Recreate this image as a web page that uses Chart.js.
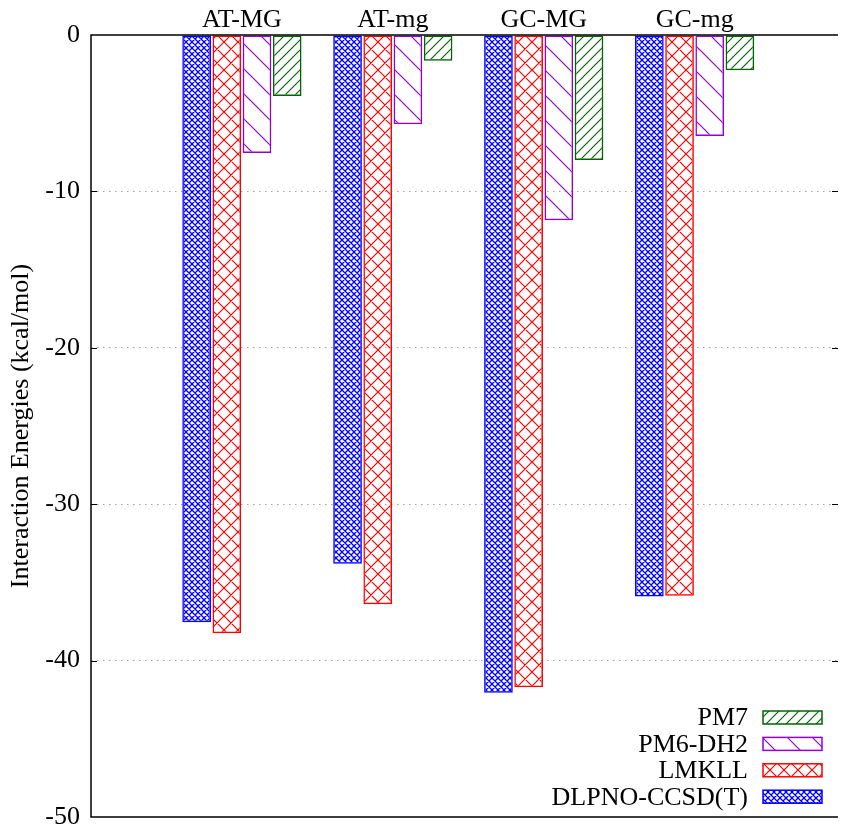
<!DOCTYPE html>
<html>
<head>
<meta charset="utf-8">
<script src="https://cdn.jsdelivr.net/npm/chart.js@4/dist/chart.umd.min.js"></script>
<style>
  html, body { margin: 0; padding: 0; background: #fff; }
  #wrap { width: 841px; height: 826px; }
</style>
</head>
<body>
<div id="wrap"><canvas id="energyChart" width="841" height="826"></canvas></div>
<script>
// categories shown along the top axis
const categories = ['AT-MG', 'AT-mg', 'GC-MG', 'GC-mg'];

// interaction energies (kcal/mol) per method
const dlpnoValues = [-37.55, -33.8, -42.05, -35.9];
const lmkllValues = [-38.25, -36.4, -41.7, -35.85];
const pm6dh2Values = [-7.55, -5.7, -11.85, -6.45];
const pm7Values = [-3.9, -1.65, -8.0, -2.25];

const yTicks = [0, -10, -20, -30, -40, -50];

const serif = '"Liberation Serif", "DejaVu Serif", serif';
const fontSize = 26;

// hatch patterns like gnuplot's fill patterns
function makePattern(size, color, kind, lw) {
  const c = document.createElement('canvas');
  c.width = size;
  c.height = size;
  const g = c.getContext('2d');
  g.strokeStyle = color;
  g.lineWidth = lw;
  g.beginPath();
  if (kind === 'fwd' || kind === 'cross') {
    g.moveTo(-1, size + 1); g.lineTo(size + 1, -1);
    g.moveTo(-1, 1); g.lineTo(1, -1);
    g.moveTo(size - 1, size + 1); g.lineTo(size + 1, size - 1);
  }
  if (kind === 'back' || kind === 'cross') {
    g.moveTo(-1, -1); g.lineTo(size + 1, size + 1);
    g.moveTo(size - 1, -1); g.lineTo(size + 1, 1);
    g.moveTo(-1, size - 1); g.lineTo(1, size + 1);
  }
  g.stroke();
  return g.createPattern(c, 'repeat');
}

const ctx = document.getElementById('energyChart').getContext('2d');

const blueFill = makePattern(6, '#0000ff', 'cross', 1.3);
const redFill = makePattern(14, '#ff0000', 'cross', 1.2);
const purpleFill = makePattern(25, '#9400d3', 'back', 1.2);
const greenFill = makePattern(10, '#006400', 'fwd', 1.1);

function toPoints(values) {
  return values.map((v, i) => ({ x: i + 1, y: v }));
}

const datasets = [
  { label: 'DLPNO-CCSD(T)', data: toPoints(dlpnoValues), backgroundColor: blueFill, borderColor: '#0000ff' },
  { label: 'LMKLL', data: toPoints(lmkllValues), backgroundColor: redFill, borderColor: '#ff0000' },
  { label: 'PM6-DH2', data: toPoints(pm6dh2Values), backgroundColor: purpleFill, borderColor: '#9400d3' },
  { label: 'PM7', data: toPoints(pm7Values), backgroundColor: greenFill, borderColor: '#006400' }
].map(d => Object.assign(d, {
  borderWidth: 1.5,
  borderSkipped: false,
  categoryPercentage: 0.8,
  barPercentage: 0.95
}));

// frame, inward ticks and the key (text left of the swatch, gnuplot style)
const framePlugin = {
  id: 'frame',
  afterDraw(chart) {
    const { ctx, chartArea: a, scales } = chart;
    ctx.save();
    ctx.strokeStyle = '#000';
    ctx.lineWidth = 1.5;
    ctx.beginPath();
    ctx.moveTo(a.right, a.top); ctx.lineTo(a.left, a.top);
    ctx.lineTo(a.left, a.bottom); ctx.lineTo(a.right, a.bottom);
    ctx.stroke();
    ctx.lineWidth = 1;
    ctx.beginPath();
    yTicks.forEach(t => {
      if (t === 0 || t === -50) return;
      const y = Math.round(scales.y.getPixelForValue(t)) + 0.5;
      ctx.moveTo(a.left, y); ctx.lineTo(a.left + 6, y);
      ctx.moveTo(a.right, y); ctx.lineTo(a.right - 6, y);
    });
    ctx.stroke();

    // key
    const order = [3, 2, 1, 0];
    const textRight = 748;
    const boxLeft = 763, boxW = 59, boxH = 13;
    const firstY = 717.5, step = 26.4;
    ctx.font = fontSize + 'px ' + serif;
    ctx.textAlign = 'right';
    ctx.textBaseline = 'middle';
    order.forEach((di, k) => {
      const ds = chart.data.datasets[di];
      const cy = firstY + k * step;
      ctx.fillStyle = '#000';
      ctx.fillText(ds.label, textRight, cy + 1);
      ctx.fillStyle = ds.backgroundColor;
      ctx.fillRect(boxLeft, cy - boxH / 2, boxW, boxH);
      ctx.strokeStyle = ds.borderColor;
      ctx.lineWidth = 1.5;
      ctx.strokeRect(boxLeft, cy - boxH / 2, boxW, boxH);
    });
    ctx.restore();
  }
};

new Chart(ctx, {
  type: 'bar',
  data: { datasets: datasets },
  plugins: [framePlugin],
  options: {
    responsive: false,
    animation: false,
    layout: { padding: { left: 0, right: 3, top: 0, bottom: 9 } },
    plugins: {
      legend: { display: false },
      tooltip: { enabled: false }
    },
    scales: {
      x: {
        type: 'linear',
        position: 'top',
        offset: false,
        min: 0,
        max: 4.95,
        afterFit(scale) {
          scale.height = 35;
          scale.paddingLeft = 0;
          scale.paddingRight = 0;
        },
        afterBuildTicks(scale) {
          scale.ticks = categories.map((c, i) => ({ value: i + 1 }));
        },
        ticks: {
          color: '#000',
          font: { family: serif, size: fontSize },
          padding: -1,
          maxRotation: 0,
          autoSkip: false,
          callback: (v) => categories[v - 1] || ''
        },
        grid: { display: false, drawTicks: false },
        border: { display: false }
      },
      y: {
        min: -50,
        max: 0,
        afterFit(scale) {
          scale.width = 91;
          scale.paddingTop = 0;
          scale.paddingBottom = 0;
        },
        afterBuildTicks(scale) {
          scale.ticks = yTicks.map(v => ({ value: v }));
        },
        ticks: {
          color: '#000',
          font: { family: serif, size: fontSize },
          padding: 11
        },
        grid: {
          drawTicks: false,
          color: (c) => (c.tick && (c.tick.value === 0 || c.tick.value === -50)) ? 'rgba(0,0,0,0)' : '#a0a0a0',
          lineWidth: 1
        },
        border: { display: false, dash: [1.5, 4.5] },
        title: {
          display: true,
          text: 'Interaction Energies (kcal/mol)',
          color: '#000',
          font: { family: serif, size: fontSize },
          padding: { top: 6, bottom: 0 }
        }
      }
    }
  }
});
</script>
</body>
</html>
